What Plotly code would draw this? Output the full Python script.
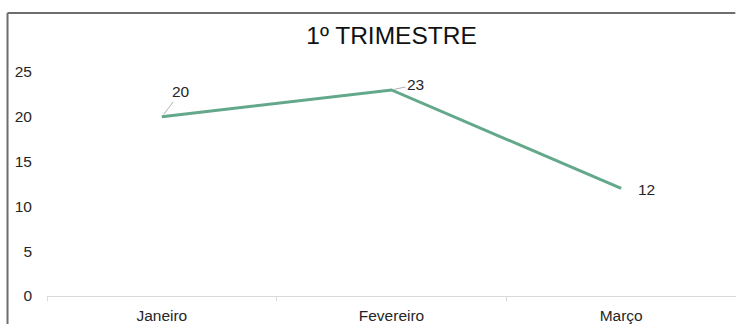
import plotly.graph_objects as go

# Quarterly values
months = ["Janeiro", "Fevereiro", "Março"]
values = [20, 23, 12]
y_ticks = [0, 5, 10, 15, 20, 25]
title_text = "1º TRIMESTRE"

LINE_COLOR = "#63a88a"
TEXT_COLOR = "#262626"
FONT = "Liberation Sans, Arial, sans-serif"
LABEL_SIZE = 15.5

fig = go.Figure()
fig.add_trace(go.Scatter(
    x=months, y=values, mode="lines",
    line=dict(color=LINE_COLOR, width=3),
    hoverinfo="x+y", showlegend=False,
))

# Value labels: offsets (px) from each point, leader line where present
label_offsets = [(19, -25, True), (24, -5, True), (25, 1, False)]
for m, v, (dx, dy, leader) in zip(months, values, label_offsets):
    if leader:
        fig.add_annotation(
            x=m, y=v, text=str(v), showarrow=True, ax=dx, ay=dy,
            arrowhead=0, arrowwidth=1, arrowcolor="#b0b0b0", standoff=3,
            font=dict(size=LABEL_SIZE, color=TEXT_COLOR, family=FONT),
        )
    else:
        fig.add_annotation(
            x=m, y=v, text=str(v), showarrow=False, xshift=dx, yshift=-dy,
            font=dict(size=LABEL_SIZE, color=TEXT_COLOR, family=FONT),
        )

# Chart frame: left and top edges
frame_line = dict(color="#6e6e6e", width=2)
fig.add_shape(type="line", xref="paper", yref="paper",
              x0=-0.0573, x1=-0.0573, y0=-0.125, y1=1.263, line=frame_line)
fig.add_shape(type="line", xref="paper", yref="paper",
              x0=-0.0573, x1=0.999, y0=1.263, y1=1.263, line=frame_line)

fig.update_layout(
    width=736, height=324,
    margin=dict(l=47, r=0, t=72, b=28),
    paper_bgcolor="white", plot_bgcolor="white",
    font=dict(family=FONT, color=TEXT_COLOR, size=LABEL_SIZE),
    title=dict(text=title_text, x=0.5, xref="paper", xanchor="center",
               y=1 - 35 / 324, yanchor="middle", yref="container",
               font=dict(size=24.5, color="#111111", family=FONT)),
    xaxis=dict(
        type="category", range=[-0.5, 2.5],
        showline=True, linecolor="#d9d9d9", linewidth=1,
        ticks="outside", tickson="boundaries", ticklen=4, tickcolor="#d9d9d9",
        ticklabelstandoff=5,
        showgrid=False, zeroline=False,
        tickfont=dict(size=LABEL_SIZE, color=TEXT_COLOR, family=FONT),
    ),
    yaxis=dict(
        range=[0, 25], tickvals=y_ticks,
        showline=False, showgrid=False, zeroline=False,
        ticks="", ticklabelstandoff=14,
        tickfont=dict(size=LABEL_SIZE, color=TEXT_COLOR, family=FONT),
    ),
)

fig.write_html("out.html")
